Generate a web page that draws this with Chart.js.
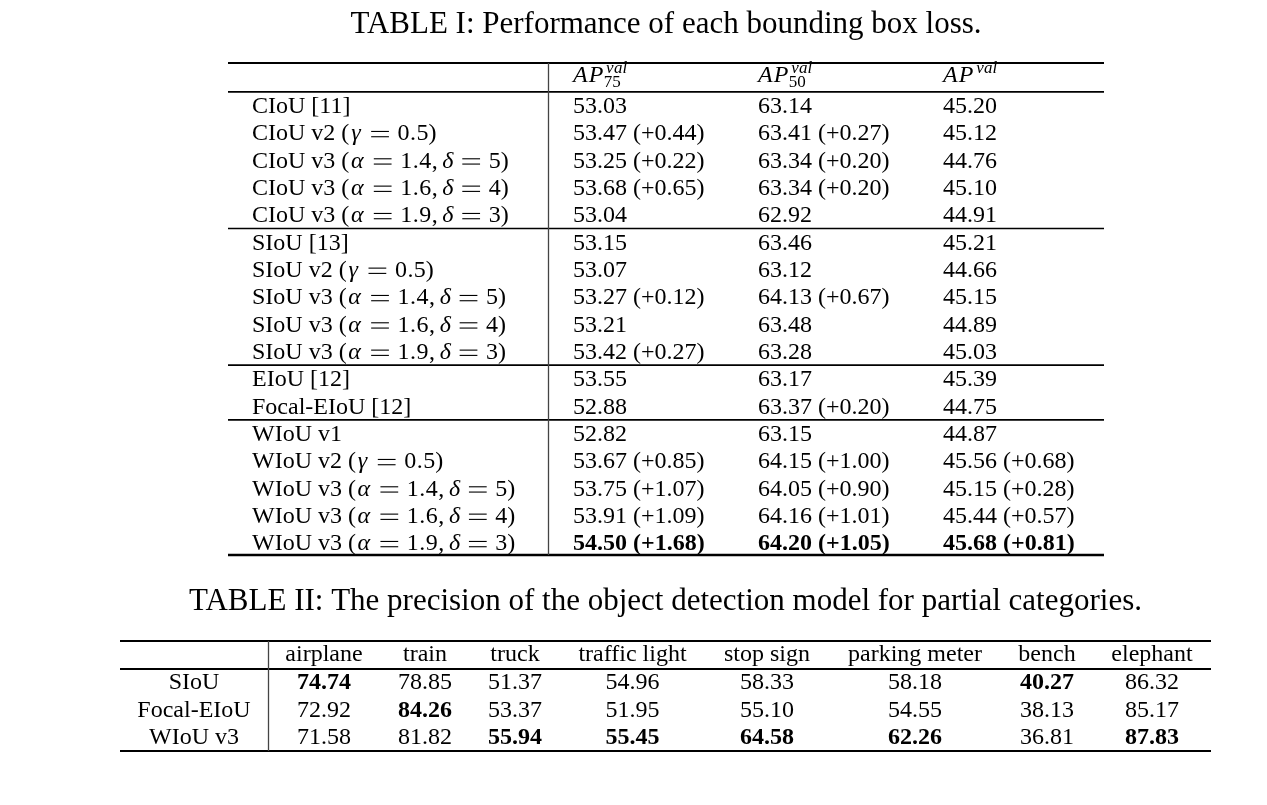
<!DOCTYPE html>
<html><head><meta charset="utf-8">
<script src="https://cdn.jsdelivr.net/npm/chart.js@4.4.1/dist/chart.umd.min.js"></script>
<style>
html,body{margin:0;padding:0;background:#fff;}
#wrap{position:relative;width:1267px;height:805px;overflow:hidden;}
#c1{position:absolute;left:0;top:0;}
#c2{position:absolute;left:0;top:570px;}
</style></head><body>
<div id="wrap">
<canvas id="c1" width="1267" height="570"></canvas>
<canvas id="c2" width="1267" height="235"></canvas>
</div>
<script>
// ---------------- DATA ----------------
const title1 = "TABLE I: Performance of each bounding box loss.";
const columns1 = ["75", "50", ""];            // subscripts of AP^{val}
const methods1 = [
  "CIoU [11]", "CIoU v2 ($γ=0.5$)", "CIoU v3 ($α=1.4,δ=5$)", "CIoU v3 ($α=1.6,δ=4$)", "CIoU v3 ($α=1.9,δ=3$)",
  "SIoU [13]", "SIoU v2 ($γ=0.5$)", "SIoU v3 ($α=1.4,δ=5$)", "SIoU v3 ($α=1.6,δ=4$)", "SIoU v3 ($α=1.9,δ=3$)",
  "EIoU [12]", "Focal-EIoU [12]",
  "WIoU v1", "WIoU v2 ($γ=0.5$)", "WIoU v3 ($α=1.4,δ=5$)", "WIoU v3 ($α=1.6,δ=4$)", "WIoU v3 ($α=1.9,δ=3$)"
];
const groups1 = [0,0,0,0,0, 1,1,1,1,1, 2,2, 3,3,3,3,3];
const ap75     = [53.03,53.47,53.25,53.68,53.04, 53.15,53.07,53.27,53.21,53.42, 53.55,52.88, 52.82,53.67,53.75,53.91,54.50];
const ap75Gain = [null,0.44,0.22,0.65,null, null,null,0.12,null,0.27, null,null, null,0.85,1.07,1.09,1.68];
const ap50     = [63.14,63.41,63.34,63.34,62.92, 63.46,63.12,64.13,63.48,63.28, 63.17,63.37, 63.15,64.15,64.05,64.16,64.20];
const ap50Gain = [null,0.27,0.20,0.20,null, null,null,0.67,null,null, null,0.20, null,1.00,0.90,1.01,1.05];
const apAll    = [45.20,45.12,44.76,45.10,44.91, 45.21,44.66,45.15,44.89,45.03, 45.39,44.75, 44.87,45.56,45.15,45.44,45.68];
const apAllGain= [null,null,null,null,null, null,null,null,null,null, null,null, null,0.68,0.28,0.57,0.81];

const title2 = "TABLE II: The precision of the object detection model for partial categories.";
const categories2 = ["airplane","train","truck","traffic light","stop sign","parking meter","bench","elephant"];
const models2 = ["SIoU","Focal-EIoU","WIoU v3"];
const siou      = [74.74,78.85,51.37,54.96,58.33,58.18,40.27,86.32];
const focalEiou = [72.92,84.26,53.37,51.95,55.10,54.55,38.13,85.17];
const wiouV3    = [71.58,81.82,55.94,55.45,64.58,62.26,36.81,87.83];

// ---------------- LAYOUT / STYLE ----------------
const FAMILY = '"Liberation Serif","Times New Roman",serif';
const FS = 24;
const TITLE_FS = 31;
const font = (style, size) => `${style} ${size}px ${FAMILY}`;
const COL_EDGES1 = [0, 0.3653, 0.5765, 0.7877, 1];   // fractions of table width
const INSET1 = 25;
const COL_EDGES2 = [0, 148, 260, 350, 440, 585, 709, 881, 973, 1091].map(v => v / 1091);
// advance widths (em) of math glyphs, Computer-Modern-like
const MATH_W = {'=':0.84,'α':0.66,'δ':0.48,'γ':0.55,'.':0.29,',':0.29,
  'A':0.66,'P':0.62,'v':0.46,'a':0.50,'l':0.28};

// ---------------- TEXT HELPERS ----------------
function plain(str, style) { return [{t: str, font: font(style || 'normal', FS)}]; }
function mathChar(ch, size) {
  const italic = /[A-Za-z\u03b1-\u03c9]/.test(ch);
  const greek = /[\u03b1-\u03c9]/.test(ch);
  const w = MATH_W[ch] != null ? MATH_W[ch] : 0.5;
  const r = {t: ch, font: font(italic ? 'italic' : 'normal', size), adv: w * size, center: !italic || greek, size};
  if (ch === '=') { r.equals = true; r.padL = 0.31 * size; r.padR = 0.31 * size; }
  if (ch === ',') r.padR = 0.167 * size;
  return r;
}
function parseLabel(str) {
  const runs = [];
  str.split('$').forEach((p, i) => {
    if (i % 2 === 0) { if (p) runs.push({t: p, font: font('normal', FS)}); return; }
    for (const ch of p) runs.push(mathChar(ch, FS));
  });
  return runs;
}
function apHeader(sub) {
  const s = Math.round(FS * 0.72);
  const runs = [mathChar('A', FS), mathChar('P', FS)];
  runs.push({stack: true, padL: 0.10 * FS,
    sup: {runs: 'val'.split('').map(c => mathChar(c, s)), dy: -0.38 * FS, dx: 0},
    sub: sub ? {runs: sub.split('').map(c => mathChar(c, s)), dy: 0.22 * FS, dx: -0.10 * FS} : null});
  return runs;
}
function simpleWidth(ctx, r) {
  let w = r.adv;
  if (w == null) { ctx.font = r.font; w = ctx.measureText(r.t).width; }
  return (r.padL || 0) + w + (r.padR || 0);
}
function listWidth(ctx, runs) { return runs.reduce((s, r) => s + simpleWidth(ctx, r), 0); }
function runWidth(ctx, r) {
  if (r.stack) {
    let w = listWidth(ctx, r.sup.runs) + r.sup.dx;
    if (r.sub) w = Math.max(w, listWidth(ctx, r.sub.runs) + r.sub.dx);
    return (r.padL || 0) + w;
  }
  return simpleWidth(ctx, r);
}
function drawSimple(ctx, r, cx, baseline) {
  const x0 = cx + (r.padL || 0);
  if (r.equals) {
    // long Computer-Modern-like equals sign
    const s = r.size, ink = r.adv - 0.10 * s, th = Math.max(1.1, 0.045 * s);
    ctx.fillRect(x0 + 0.05 * s, baseline - 0.365 * s - th / 2, ink, th);
    ctx.fillRect(x0 + 0.05 * s, baseline - 0.145 * s - th / 2, ink, th);
    return (r.padL || 0) + r.adv + (r.padR || 0);
  }
  ctx.font = r.font;
  const m = ctx.measureText(r.t).width;
  const adv = r.adv != null ? r.adv : m;
  const off = r.center ? (adv - m) / 2 : 0;
  ctx.fillText(r.t, x0 + off, baseline);
  return (r.padL || 0) + adv + (r.padR || 0);
}
function drawList(ctx, runs, cx, baseline) { for (const r of runs) cx += drawSimple(ctx, r, cx, baseline); }
function drawRuns(ctx, runs, x, baseline, align) {
  const total = runs.reduce((s, r) => s + runWidth(ctx, r), 0);
  let cx = align === 'center' ? x - total / 2 : x;
  ctx.fillStyle = '#000';
  ctx.textBaseline = 'alphabetic';
  ctx.textAlign = 'left';
  for (const r of runs) {
    if (r.stack) {
      const x0 = cx + (r.padL || 0);
      drawList(ctx, r.sup.runs, x0 + r.sup.dx, baseline + r.sup.dy);
      if (r.sub) drawList(ctx, r.sub.runs, x0 + r.sub.dx, baseline + r.sub.dy);
      cx += runWidth(ctx, r);
    } else {
      cx += drawSimple(ctx, r, cx, baseline);
    }
  }
}
function hRule(ctx, area, y, w) {
  ctx.save(); ctx.strokeStyle = '#000'; ctx.lineWidth = w;
  ctx.beginPath(); ctx.moveTo(area.left, y); ctx.lineTo(area.right, y); ctx.stroke(); ctx.restore();
}
function vRule(ctx, x, y0, y1) {
  ctx.save(); ctx.strokeStyle = '#444'; ctx.lineWidth = 1.3;
  ctx.beginPath(); ctx.moveTo(x, y0); ctx.lineTo(x, y1); ctx.stroke(); ctx.restore();
}
const BASE_SHIFT = 0.37 * FS;

// ---------------- TABLE I ----------------
const cols1 = [[ap75, ap75Gain], [ap50, ap50Gain], [apAll, apAllGain]];
const table1Plugin = {
  id: 'table1',
  afterDraw(chart) {
    const {ctx, chartArea: a, scales: {x, y}} = chart;
    const colX = COL_EDGES1.map(f => x.getPixelForValue(f));
    // header
    columns1.forEach((sub, j) => drawRuns(ctx, apHeader(sub), colX[j + 1] + INSET1, y.getPixelForValue(0) + BASE_SHIFT - 3.5, 'left'));
    // body
    methods1.forEach((m, i) => {
      const base = y.getPixelForValue(i + 1) + BASE_SHIFT;
      drawRuns(ctx, parseLabel(m), colX[0] + INSET1 - 1, base, 'left');
      cols1.forEach(([vals, gains], j) => {
        const best = vals[i] === Math.max(...vals);
        const s = vals[i].toFixed(2) + (gains[i] != null ? ' (+' + gains[i].toFixed(2) + ')' : '');
        drawRuns(ctx, plain(s, best ? 'bold' : 'normal'), colX[j + 1] + INSET1, base, 'left');
      });
    });
    // rules
    hRule(ctx, a, y.getPixelForValue(-0.5), 2);
    hRule(ctx, a, y.getPixelForValue(0.5) + 1.5, 1.8);
    for (let i = 0; i < groups1.length - 1; i++) {
      if (groups1[i] !== groups1[i + 1]) hRule(ctx, a, y.getPixelForValue(i + 1.5) + 1.5, 1.6);
    }
    hRule(ctx, a, y.getPixelForValue(methods1.length + 0.5), 2.6);
    vRule(ctx, Math.round(colX[1]) + 0.5, y.getPixelForValue(-0.5), y.getPixelForValue(methods1.length + 0.5));
  }
};

new Chart(document.getElementById('c1'), {
  type: 'scatter',
  data: {datasets: [{data: []}]},
  options: {
    responsive: false, animation: false, events: [],
    layout: {padding: {left: 228, right: 163, top: 0, bottom: 15}},
    plugins: {
      legend: {display: false}, tooltip: {enabled: false},
      title: {display: true, text: title1, color: '#000',
        font: {family: FAMILY, size: TITLE_FS, weight: 'normal', lineHeight: 1.2},
        padding: {top: 6, bottom: 19.8}}
    },
    scales: {
      x: {type: 'linear', display: false, min: 0, max: 1},
      y: {type: 'linear', display: false, min: -0.5, max: methods1.length + 0.5, reverse: true}
    }
  },
  plugins: [table1Plugin]
});

// ---------------- TABLE II ----------------
const rows2 = [siou, focalEiou, wiouV3];
const table2Plugin = {
  id: 'table2',
  afterDraw(chart) {
    const {ctx, chartArea: a, scales: {x, y}} = chart;
    const colX = COL_EDGES2.map(f => x.getPixelForValue(f));
    const center = j => (colX[j] + colX[j + 1]) / 2;
    const lift = -2;
    categories2.forEach((c, j) => drawRuns(ctx, plain(c), center(j + 1), y.getPixelForValue(0) + BASE_SHIFT + lift - 1, 'center'));
    models2.forEach((m, i) => {
      const base = y.getPixelForValue(i + 1) + BASE_SHIFT + lift;
      drawRuns(ctx, plain(m), center(0), base, 'center');
      categories2.forEach((c, j) => {
        const colVals = rows2.map(r => r[j]);
        const best = rows2[i][j] === Math.max(...colVals);
        drawRuns(ctx, plain(rows2[i][j].toFixed(2), best ? 'bold' : 'normal'), center(j + 1), base, 'center');
      });
    });
    hRule(ctx, a, y.getPixelForValue(-0.5), 2);
    hRule(ctx, a, y.getPixelForValue(0.5) + 0.5, 1.8);
    hRule(ctx, a, y.getPixelForValue(models2.length + 0.5), 2.2);
    vRule(ctx, Math.round(colX[1]) + 0.5, y.getPixelForValue(-0.5), y.getPixelForValue(models2.length + 0.5));
  }
};

new Chart(document.getElementById('c2'), {
  type: 'scatter',
  data: {datasets: [{data: []}]},
  options: {
    responsive: false, animation: false, events: [],
    layout: {padding: {left: 120, right: 56, top: 0, bottom: 54}},
    plugins: {
      legend: {display: false}, tooltip: {enabled: false},
      title: {display: true, text: title2, color: '#000',
        font: {family: FAMILY, size: TITLE_FS, weight: 'normal', lineHeight: 1.2},
        padding: {top: 13.4, bottom: 20.4}}
    },
    scales: {
      x: {type: 'linear', display: false, min: 0, max: 1},
      y: {type: 'linear', display: false, min: -0.5, max: models2.length + 0.5, reverse: true}
    }
  },
  plugins: [table2Plugin]
});
</script>
</body></html>
